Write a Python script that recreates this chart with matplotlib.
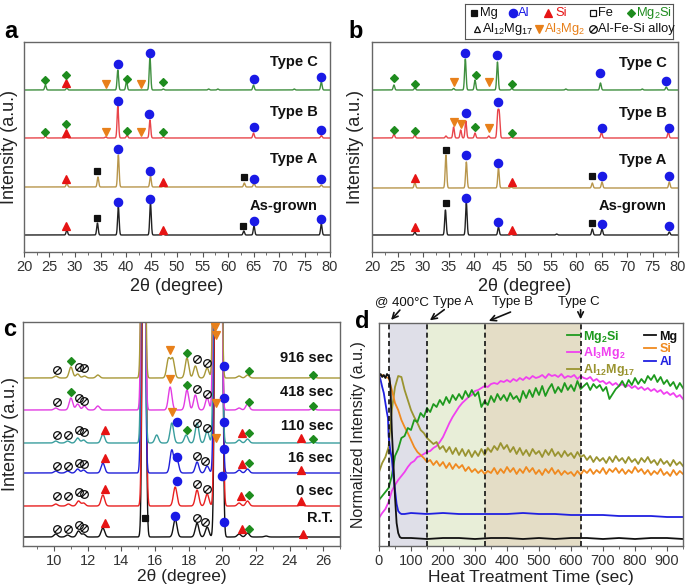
import numpy as np
import matplotlib
matplotlib.use('Agg')
import matplotlib.pyplot as plt
from matplotlib.path import Path
from matplotlib.ticker import MultipleLocator

plt.rcParams['font.family'] = ['Liberation Sans', 'DejaVu Sans']
plt.rcParams['mathtext.default'] = 'regular'

# ---------------- data: panel a (peaks as (2theta, height), baselines) ----------------
A_LABELS = ['As-grown', 'Type A', 'Type B', 'Type C']
A_BASE = [17, 65, 114, 162]
A_PEAKS = [
    [(28.4, 5), (34.4, 12), (38.5, 28), (44.8, 32), (47.3, 1.5), (63.1, 4), (65.1, 9), (78.3, 11)],
    [(28.4, 4), (34.5, 10), (38.5, 32), (44.8, 11), (47.3, 1), (63.2, 4), (65.1, 4), (78.3, 2)],
    [(24.2, 2), (28.4, 2), (36.0, 1), (38.4, 32), (40.2, 3), (44.7, 18), (47.3, 1), (65.0, 5), (78.3, 2.5)],
    [(24.2, 5), (28.4, 2), (38.4, 20), (40.1, 9), (44.7, 33), (47.3, 1), (56.2, 1), (58.0, 1),
     (65.0, 5), (73.0, 1), (78.3, 8)],
]
A_LABEL_Y = [46, 93, 140, 190]
A_MG = [(34.3, 34), (63.0, 26), (34.4, 81), (63.1, 75)]
A_AL = [(38.5, 50), (44.8, 53), (65.0, 31), (78.3, 33), (38.5, 103), (44.8, 81), (65.0, 73), (78.3, 73),
        (38.4, 151), (44.6, 138), (65.0, 125), (78.3, 122), (38.4, 188), (44.7, 199), (65.0, 173), (78.3, 175)]
A_SI = [(28.3, 26), (47.3, 22), (28.3, 73), (47.3, 70), (28.3, 119), (28.3, 169)]
A_MG2SI = [(24.2, 120), (28.3, 128), (40.2, 121), (47.3, 120), (24.2, 172), (28.3, 177), (40.1, 173), (47.3, 170)]
A_AL3MG2 = [(36.0, 120), (42.9, 120), (36.0, 168), (42.9, 168)]

# ---------------- data: panel b ----------------
B_BASE = [17, 64, 114, 162]
B_PEAKS = [
    [(28.4, 3), (34.4, 25), (38.5, 32), (44.8, 8), (47.3, 1), (56.2, 1), (63.2, 6), (65.1, 6), (78.3, 3)],
    [(28.4, 6), (34.5, 33), (38.5, 26), (44.8, 20), (47.3, 1), (63.2, 5), (65.1, 6), (78.3, 6)],
    [(24.3, 4), (28.4, 3), (34.5, 2), (36.0, 11), (37.4, 8), (38.4, 17), (40.2, 5), (42.9, 2),
     (44.65, 24), (44.95, 24), (47.3, 1), (65.0, 6), (78.1, 6)],
    [(24.3, 5), (28.4, 2), (36.0, 1.5), (38.3, 31), (40.2, 10), (44.6, 28), (47.4, 1.5), (58.0, 1),
     (64.8, 7), (73.0, 1), (77.7, 3)],
]
B_LABEL_Y = [46, 92, 139, 189]
B_MG = [(34.5, 49), (63.2, 29), (34.5, 102), (63.2, 76)]
B_AL = [(38.5, 54), (44.8, 30), (65.1, 28), (78.2, 26), (38.5, 97), (44.8, 89), (65.1, 76), (78.2, 76),
        (38.4, 139), (44.8, 150), (65.1, 124), (78.2, 124), (38.3, 199), (44.6, 197), (64.8, 179), (77.7, 171)]
B_SI = [(28.5, 25), (47.4, 22), (28.5, 74), (47.4, 70)]
B_MG2SI = [(24.3, 122), (28.4, 121), (40.2, 125), (47.4, 119), (24.3, 174), (28.4, 168), (40.3, 177), (47.4, 168)]
B_AL3MG2 = [(36.0, 130), (37.4, 128), (42.9, 124), (36.0, 170), (42.9, 170)]

# ---------------- data: panel c (in-situ patterns) ----------------
C_LABELS = ['R.T.', '0 sec', '16 sec', '110 sec', '418 sec', '916 sec']
C_BASE = [9, 40, 73, 103, 136, 168]
C_PEAKS = [
    [(10.1, 3), (10.8, 2), (11.45, 6), (11.75, 3), (12.9, 9), (15.35, 600), (17.2, 18), (18.5, 14),
     (19.1, 10), (19.65, 600), (19.92, 600), (21.0, 3), (21.5, 4), (22.6, 1), (24.8, 1.5)],
    [(10.1, 2), (10.85, 2), (11.45, 5), (11.75, 3), (12.9, 11), (15.35, 600), (17.2, 19), (18.5, 16),
     (19.1, 12), (19.65, 600), (19.92, 600), (21.0, 3), (21.5, 5), (24.7, 1.5)],
    [(10.1, 2), (10.8, 2), (11.4, 4), (11.75, 3), (12.9, 10), (15.3, 600), (17.0, 23), (17.3, 14),
     (18.5, 11), (19.1, 7), (19.62, 600), (19.9, 600), (21.0, 3), (21.5, 4), (24.7, 1.5)],
    [(10.1, 2), (10.8, 2), (11.4, 5), (11.75, 3), (12.9, 9), (15.3, 600), (16.1, 8), (17.0, 20),
     (17.85, 8), (18.5, 20), (19.1, 12), (19.6, 600), (19.88, 600), (21.0, 3), (21.5, 4), (24.7, 1), (25.4, 1)],
    [(10.1, 2), (11.0, 12), (11.4, 6), (11.8, 4), (12.6, 4), (15.3, 600), (16.9, 23), (17.9, 20),
     (18.4, 15), (19.1, 12), (19.58, 600), (19.85, 600), (21.0, 2), (21.5, 6), (25.4, 2)],
    [(10.1, 2), (11.0, 11), (11.4, 4), (11.8, 2), (12.6, 3), (15.3, 600), (16.8, 19), (17.05, 19),
     (17.9, 20), (18.4, 12), (19.1, 10), (19.58, 600), (19.85, 600), (21.0, 2), (21.5, 3), (25.4, 2)],
]
C_LABEL_Y = [28, 55, 88, 120, 154, 188]
C_MG = [(15.4, 28)]
C_AL = [(17.2, 30), (20.1, 24), (17.3, 65), (20.0, 70), (17.3, 89), (20.1, 97), (17.3, 124), (20.1, 124),
        (20.1, 148), (20.1, 180)]
C_SI = [(13.0, 23), (21.2, 17), (24.8, 12), (13.0, 57), (21.1, 50), (24.7, 45), (13.0, 88), (21.2, 82),
        (24.7, 76), (13.0, 116), (21.2, 113), (24.7, 108)]
C_MG2SI = [(21.6, 17), (21.6, 51), (21.6, 83), (17.9, 116), (21.6, 113), (25.4, 107), (11.0, 154),
           (17.9, 161), (21.6, 144), (25.4, 140), (11.0, 185), (17.9, 193), (21.6, 175), (25.4, 171)]
C_AL3MG2 = [(17.0, 134), (19.6, 143), (19.6, 108), (16.9, 167), (16.9, 196), (19.55, 219), (19.6, 211)]
C_ALFESI = [(10.2, 17), (10.8, 17), (11.5, 21), (11.8, 18), (18.5, 28), (19.0, 24),
            (10.2, 50), (10.8, 50), (11.5, 54), (11.8, 52), (18.5, 62), (19.1, 57),
            (10.2, 80), (10.8, 80), (11.5, 83), (11.8, 82), (18.5, 90), (19.0, 85),
            (10.2, 111), (10.8, 111), (11.5, 116), (11.8, 114), (18.5, 123), (19.1, 118),
            (10.2, 144), (11.5, 148), (11.8, 145), (18.5, 157), (19.1, 152),
            (10.2, 176), (11.5, 179), (11.8, 178), (18.5, 187), (19.1, 183)]

# ---------------- data: panel d (normalized intensity vs time) ----------------
T10 = np.arange(0, 951, 10)
MG2SI = [46, 50, 54, 58, 70, 90, 97, 108, 110, 118,
         116, 126, 124, 133, 129, 138, 134, 142, 139, 146,
         141, 149, 143, 151, 146, 152, 147, 155, 149, 156,
         150, 154, 139, 145, 141, 150, 144, 152, 146, 151,
         145, 153, 147, 150, 144, 155, 148, 156, 149, 158,
         151, 160, 150, 157, 162, 153, 159, 154, 163, 156,
         161, 155, 165, 157, 160, 163, 156, 162, 158, 161,
         155, 159, 147, 152, 157, 160, 165, 159, 166, 161,
         168, 162, 167, 163, 170, 166, 171, 164, 169, 162,
         166, 160, 164, 157, 163, 158]
AL3MG2 = [28, 33, 37, 44, 55, 61, 66, 70, 74, 79,
          83, 85, 89, 90, 92, 94, 95, 98, 100, 104,
          109, 116, 123, 129, 134, 139, 143, 146, 149, 151,
          155, 156, 158, 160, 159, 162, 163, 162, 165, 164,
          166, 164, 167, 165, 168, 166, 169, 167, 170, 168,
          169, 171, 168, 172, 170, 171, 169, 172, 168, 170,
          169, 171, 167, 170, 168, 167, 169, 165, 167, 164,
          165, 162, 164, 161, 163, 160, 162, 159, 161, 158,
          160, 157, 159, 156, 158, 155, 157, 154, 156, 152,
          154, 151, 153, 149, 151, 147]
AL12MG17 = [74, 83, 89, 99, 136, 159, 170, 169, 156, 146,
            136, 129, 123, 116, 113, 108, 105, 102, 104, 97,
            100, 94, 99, 92, 98, 91, 97, 90, 96, 89,
            95, 90, 97, 91, 98, 94, 100, 96, 103, 97,
            101, 94, 99, 92, 98, 91, 96, 90, 97, 92,
            95, 89, 96, 91, 97, 90, 94, 89, 95, 90,
            93, 88, 94, 89, 91, 86, 90, 84, 89, 85,
            88, 83, 89, 84, 90, 85, 88, 83, 89, 84,
            87, 82, 88, 84, 89, 83, 86, 81, 87, 82,
            85, 80, 86, 81, 84, 80]
SI = [170, 171, 169, 168, 156, 143, 136, 126, 119, 113,
      106, 99, 94, 91, 88, 84, 86, 81, 85, 80,
      84, 78, 83, 77, 82, 78, 81, 75, 79, 74,
      77, 73, 76, 72, 75, 73, 78, 72, 77, 73,
      79, 74, 78, 72, 77, 73, 79, 74, 78, 72,
      76, 71, 77, 73, 78, 72, 76, 71, 75, 72,
      74, 70, 75, 71, 76, 73, 77, 72, 76, 73,
      78, 72, 77, 74, 78, 73, 77, 72, 76, 73,
      79, 74, 77, 72, 76, 71, 75, 72, 77, 71,
      74, 70, 76, 71, 75, 72]
T_FAST = [0, 5, 10, 15, 20, 25, 30, 33, 36, 40, 45, 50, 55, 60, 65, 70, 80] + list(range(100, 951, 50))
MG = [170, 172, 169, 171, 168, 172, 170, 168, 158, 116, 83, 49, 23, 13, 9, 8, 8,
      8, 7, 8, 8, 7, 8, 8, 7, 8, 7, 8, 8, 7, 8, 7, 8, 8, 7]
T_AL = [0, 5, 10, 15, 20, 25, 28, 30, 35, 40, 45, 50, 55, 60, 65, 70, 80] + list(range(100, 951, 50))
AL = [171, 166, 159, 153, 143, 133, 128, 110, 96, 88, 70, 56, 42, 35, 33, 32, 32,
      33, 32, 33, 32, 32, 32, 32, 33, 32, 32, 31, 31, 31, 30, 30, 30, 29, 29]
STAGE_T = [30, 150, 330, 630]
STAGE_NAMES = ['@ 400°C', 'Type A', 'Type B', 'Type C']

# ---------------- styles ----------------
SLASH_O = Path.make_compound_path(Path.unit_circle(),
                                  Path([(-0.72, -0.72), (0.72, 0.72)], [Path.MOVETO, Path.LINETO]))
STYLE = {
    'Mg': dict(marker='s', color='#111111', ms=5),
    'Al': dict(marker='o', color='#1a1ae6', ms=6),
    'Si': dict(marker='^', color='#e61414', ms=5.5),
    'Mg2Si': dict(marker='D', color='#1e8c1e', ms=3.8),
    'Al3Mg2': dict(marker='v', color='#e8801a', ms=5.5),
    'AlFeSi': dict(marker=SLASH_O, color='#111111', ms=5.5, mfc='none'),
    'Fe': dict(marker='s', color='#111111', ms=5, mfc='none'),
    'Al12Mg17': dict(marker='^', color='#111111', ms=5, mfc='none'),
}
AB_COLORS = ['#222222', '#b8964c', '#e8454a', '#3f8f3f']
C_COLORS = ['#111111', '#e82020', '#2020d8', '#3a9e9e', '#e23ce2', '#a89838']


def pattern(x, base, peaks, fwhm, fwhm_big=None):
    y = np.full_like(x, base, dtype=float)
    for p, h in peaks:
        w = fwhm_big if (fwhm_big is not None and h > 100) else fwhm
        y += h * np.exp(-4 * np.log(2) * ((x - p) / w) ** 2)
    return y


def put(ax, phase, pts, clip=False):
    st = STYLE[phase]
    x, y = zip(*pts)
    ax.plot(x, y, ls='none', marker=st['marker'], ms=st['ms'], color=st['color'],
            mfc=st.get('mfc', st['color']), mec=st['color'], mew=0.9, clip_on=clip, zorder=5)


def style_axes(ax):
    for s in ax.spines.values():
        s.set_color('#666666')
        s.set_linewidth(1.0)
    ax.set_yticks([])
    ax.tick_params(axis='x', which='both', direction='out', colors='#555555',
                   labelcolor='#333333', labelsize=10.5, pad=2)
    ax.tick_params(axis='x', which='major', length=3.5)
    ax.tick_params(axis='x', which='minor', length=2)


fig = plt.figure(figsize=(6.85, 5.86), dpi=100)
W, H = 685, 586

# ---------------- panels a & b ----------------
x_ab = np.linspace(20, 80, 3000)
for left, peaks_all, bases, label_y, mg, al, si, m2s, a32, lx in [
        (24, A_PEAKS, A_BASE, A_LABEL_Y, A_MG, A_AL, A_SI, A_MG2SI, A_AL3MG2, 77.6),
        (372, B_PEAKS, B_BASE, B_LABEL_Y, B_MG, B_AL, B_SI, B_MG2SI, B_AL3MG2, 77.8)]:
    ax = fig.add_axes([left / W, 334 / H, 306 / W, 210 / H])
    for peaks, base, col, lab, ly in zip(peaks_all, bases, AB_COLORS, A_LABELS, label_y):
        ax.plot(x_ab, pattern(x_ab, base, peaks, 0.35), color=col, lw=1.0)
        ax.text(lx, ly, lab, ha='right', va='center', fontsize=10.5, fontweight='bold', color='#111111')
    put(ax, 'Mg', mg)
    put(ax, 'Al', al)
    put(ax, 'Si', si)
    put(ax, 'Mg2Si', m2s)
    put(ax, 'Al3Mg2', a32)
    ax.set_xlim(20, 80)
    ax.set_ylim(0, 210)
    ax.xaxis.set_major_locator(MultipleLocator(5))
    ax.xaxis.set_minor_locator(MultipleLocator(2.5))
    style_axes(ax)
    ax.set_xlabel('2θ (degree)', fontsize=13, color='#222222', labelpad=3)
    ax.set_ylabel('Intensity (a.u.)', fontsize=13, color='#222222', labelpad=4 if left < 100 else 6)

# ---------------- panel c ----------------
axc = fig.add_axes([23 / W, 40 / H, 317 / W, 224 / H])
x_c = np.linspace(8.15, 27, 4000)
for peaks, base, col, lab, ly in zip(C_PEAKS, C_BASE, C_COLORS, C_LABELS, C_LABEL_Y):
    axc.plot(x_c, pattern(x_c, base, peaks, 0.25, 0.2), color=col, lw=1.0)
    axc.text(26.6, ly, lab, ha='right', va='center', fontsize=10.5, fontweight='bold', color='#111111')
put(axc, 'Mg', C_MG)
put(axc, 'Al', C_AL)
put(axc, 'Si', C_SI)
put(axc, 'Mg2Si', C_MG2SI)
put(axc, 'Al3Mg2', C_AL3MG2)
put(axc, 'AlFeSi', C_ALFESI)
axc.set_xlim(8.15, 27)
axc.set_ylim(0, 224)
axc.xaxis.set_major_locator(MultipleLocator(2))
axc.xaxis.set_minor_locator(MultipleLocator(1))
style_axes(axc)
axc.set_xlabel('2θ (degree)', fontsize=12.5, color='#222222', labelpad=1)
axc.set_ylabel('Intensity (a.u.)', fontsize=13, color='#222222', labelpad=3)

# ---------------- panel d ----------------
axd = fig.add_axes([379 / W, 40 / H, 304 / W, 223 / H])
for (t0, t1), c in zip(zip(STAGE_T[:-1], STAGE_T[1:]), ['#dfdfe8', '#e8eed8', '#e4ddc6']):
    axd.axvspan(t0, t1, color=c, lw=0, zorder=0)
for t in STAGE_T:
    axd.axvline(t, color='#111111', ls=(0, (3, 2)), lw=1.2, zorder=4)
l_a32, = axd.plot(T10, AL3MG2, color='#f040f0', lw=1.3, label='Al$_3$Mg$_2$')
l_a1217, = axd.plot(T10, AL12MG17, color='#9a9430', lw=1.3, label='Al$_{12}$Mg$_{17}$')
l_si, = axd.plot(T10, SI, color='#f08a20', lw=1.3, label='Si')
l_m2s, = axd.plot(T10, MG2SI, color='#1e9a1e', lw=1.3, label='Mg$_2$Si')
l_al, = axd.plot(T_AL, AL, color='#2020e0', lw=1.3, label='Al')
l_mg, = axd.plot(T_FAST, MG, color='#111111', lw=1.3, label='Mg')
leg = axd.legend(handles=[l_m2s, l_a32, l_a1217, l_mg, l_si, l_al], ncol=2, loc='upper right',
                 frameon=False, handlelength=1.0, handletextpad=0.25,
                 columnspacing=0.7, labelspacing=0.05, borderaxespad=0.05,
                 prop={'weight': 'bold', 'size': 9})
for txt, h in zip(leg.get_texts(), leg.legend_handles):
    txt.set_color(h.get_color())
leg.set_zorder(6)
axd.set_xlim(0, 950)
axd.set_ylim(0, 223)
axd.xaxis.set_major_locator(MultipleLocator(100))
axd.xaxis.set_minor_locator(MultipleLocator(50))
style_axes(axd)
axd.set_xlabel('Heat Treatment Time (sec)', fontsize=12.5, color='#222222', labelpad=2)
axd.set_ylabel('Normalized Intensity (a.u.)', fontsize=11.5, color='#222222', labelpad=9)

for name, tx, tail, head in zip(STAGE_NAMES, [72, 233, 417, 625],
                                [(71, 238), (211, 238), (419, 235), (630, 239)],
                                [(32, 224), (152, 224), (335, 224), (630, 224)]):
    axd.text(tx, 244, name, ha='center', va='center', fontsize=9.5, color='#111111')
    axd.annotate('', xy=head, xytext=tail, arrowprops=dict(arrowstyle='->', lw=1.2, color='#111111'),
                 annotation_clip=False)

# ---------------- phase legend box ----------------
lax = fig.add_axes([465 / W, 1 - 39 / H, 208 / W, 35 / H])
lax.set_xlim(0, 208)
lax.set_ylim(35, 0)
lax.set_xticks([])
lax.set_yticks([])
for s in lax.spines.values():
    s.set_color('#555555')
row1, row2 = 9, 25
for phase, mx, tx, y, text, tcol in [
        ('Mg', 9, 15, row1, 'Mg', '#111111'),
        ('Al', 47.7, 53, row1, 'Al', '#1a1ae6'),
        ('Si', 83, 90, row1, 'Si', '#e61414'),
        ('Fe', 128, 133, row1, 'Fe', '#111111'),
        ('Mg2Si', 165.7, 171, row1, 'Mg$_2$Si', '#1e8c1e'),
        ('Al12Mg17', 11.7, 17, row2, 'Al$_{12}$Mg$_{17}$', '#111111'),
        ('Al3Mg2', 74, 79, row2, 'Al$_3$Mg$_2$', '#e8801a'),
        ('AlFeSi', 128, 133, row2, 'Al-Fe-Si alloy', '#111111')]:
    put(lax, phase, [(mx, y)])
    lax.text(tx, y, text, ha='left', va='center', fontsize=9.3, color=tcol)

# ---------------- panel letters ----------------
for letter, px, py in [('a', 4, 31), ('b', 348, 31), ('c', 3, 329), ('d', 355, 322)]:
    fig.text(px / W, 1 - py / H, letter, fontsize=17, fontweight='bold', va='center', ha='left')

fig.savefig('out.png', dpi=100)
